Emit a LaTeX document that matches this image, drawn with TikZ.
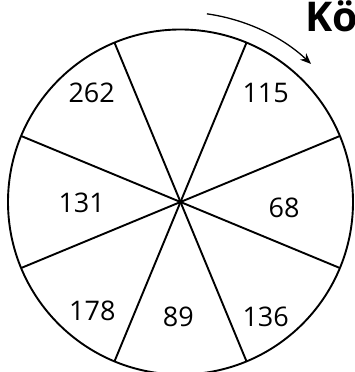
\documentclass[tikz,border=0pt]{standalone}
\usepackage{fontspec}
\setmainfont{Open Sans}
\usetikzlibrary{arrows.meta}

\begin{document}
\begin{tikzpicture}[x=1pt, y=1pt,
        rim/.style={line width=1.9pt},
        num/.style={font=\fontsize{27}{32}\selectfont, inner sep=0pt}]
    \useasboundingbox (0,0) rectangle (355,372);

        \coordinate (c) at (180.5,170);
        \draw[rim] (c) circle (172.5);

        \coordinate (a1) at ([shift={(22.5:172.5)}]c);
        \coordinate (b1) at ([shift={(202.5:172.5)}]c);
        \coordinate (a2) at ([shift={(67.5:172.5)}]c);
        \coordinate (b2) at ([shift={(247.5:172.5)}]c);
        \coordinate (a3) at ([shift={(112.5:172.5)}]c);
        \coordinate (b3) at ([shift={(292.5:172.5)}]c);
        \coordinate (a4) at ([shift={(157.5:172.5)}]c);
        \coordinate (b4) at ([shift={(337.5:172.5)}]c);

        \draw[rim] (a1) -- (b1);
        \draw[rim] (a2) -- (b2);
        \draw[rim] (a3) -- (b3);
        \draw[rim] (a4) -- (b4);

        \node[num] (n262) at (91.7,278.7) {262};
        \node[num] (n115) at (265.7,278.7) {115};
        \node[num] (n131) at (81.7,169.3) {131};
        \node[num] (n68) at (284,163.7) {68};
        \node[num] (n178) at (92.3,61) {178};
        \node[num] (n89) at (178.3,55.3) {89};
        \node[num] (n136) at (265.7,55.3) {136};

        \node[anchor=base west, inner sep=0pt, font=\bfseries\fontsize{41}{46}\selectfont] (title) at (305,340.5) {Kö};

        \coordinate (s) at ([shift={(82:190)}]c);
        \draw[line width=1.3pt, -{Stealth[length=11pt, width=9pt]}] (s) arc[start angle=82, end angle=46.6, radius=190];

\end{tikzpicture}
\end{document}
